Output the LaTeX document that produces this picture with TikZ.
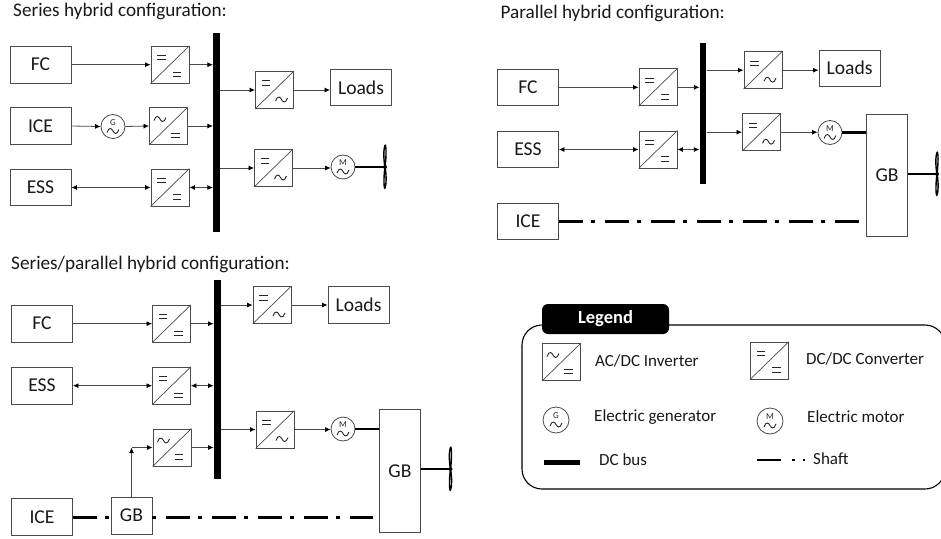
\documentclass[tikz,border=0pt]{standalone}
\usepackage{fontspec}
\setmainfont{Carlito}
\usetikzlibrary{arrows.meta}
\definecolor{ln}{HTML}{4A4A4A}
\tikzset{
  x=1pt,y=-1pt,
  block/.style={draw=ln,line width=0.9pt,fill=white,inner sep=0pt,minimum width=61pt,minimum height=36.5pt,font=\fontsize{19.6}{20}\selectfont,text=black!90},
  convbox/.style={draw=ln,line width=0.9pt,fill=white,inner sep=0pt,minimum width=38pt,minimum height=37pt},
  gearbox/.style={block,minimum width=41pt},
  busbar/.style={fill=black,inner sep=0pt,minimum width=6.8pt},
  machine/.style={circle,draw=ln,line width=0.8pt,fill=white,inner sep=0pt,minimum size=24pt},
  conn/.style={draw=ln,line width=0.8pt,-{Latex[length=5.5pt,width=5pt,black]}},
  biconn/.style={draw=ln,line width=0.8pt,{Latex[length=5.5pt,width=5pt,black]}-{Latex[length=5.5pt,width=5pt,black]}},
  heavy/.style={draw=black,line width=2.8pt},
  shaftline/.style={draw=black,line width=3pt,dash pattern=on 24pt off 8.5pt on 4pt off 9.5pt},
  title/.style={anchor=west,inner sep=0pt,font=\fontsize{19.2}{19}\selectfont,text=black!90},
  legtext/.style={anchor=west,inner sep=0pt,font=\fontsize{17}{17}\selectfont,text=black!90},
}
\newcommand\eqsym[2]{\draw[black!85,line width=1pt] (#1-4.2,#2-2.2) -- ++(8.4,0) (#1-4.2,#2+2.2) -- ++(8.4,0);}
\newcommand\acsym[2]{\draw[black!85,line width=0.9pt] (#1-6,#2+1.5) .. controls (#1-4,#2-4.5) and (#1-1,#2-2.5) .. (#1,#2) .. controls (#1+1,#2+2.5) and (#1+4,#2+4.5) .. (#1+6,#2-1.5);}
% name, cx, cy, top symbol, bottom symbol
\newcommand\conv[5]{%
  \node[convbox] (#1) at (#2,#3) {};
  \draw[ln,line width=0.7pt] (#1.south west) -- (#1.north east);
  \begin{scope}[shift={(#1.center)}]
    #4{-8.5}{-7}
    #5{7}{9.5}
  \end{scope}}
\newcommand\mach[5]{% name,x,y,letter,size
  \node[machine,minimum size=#5] (#1) at (#2,#3) {};
  \node[inner sep=0pt,font=\fontsize{9}{9}\selectfont,text=black!85] (#1l) at (#2,#3-4.2) {#4};
  \begin{scope}[shift={(#1.center)}]\acsym{0}{4.5}\end{scope}}
\newcommand\propeller[3]{% name,x,y
  \coordinate (#1) at (#2,#3);
  \begin{scope}[shift={(#1)}]
    \draw[black,line width=1.4pt,fill=white,line join=round] (0,0)
      .. controls (-1.6,-8) and (-1.6,-19) .. (0.3,-22)
      .. controls (1.6,-18) and (1,-8) .. (0,0)
      .. controls (-1.2,8) and (-1.4,19) .. (-0.3,21.5)
      .. controls (1.4,19) and (1.6,8) .. (0,0) -- cycle;
    \fill[black] (0,0) circle (2);
  \end{scope}}
\begin{document}
\begin{tikzpicture}
\useasboundingbox (0,0) rectangle (941,538);
\clip (0,0) rectangle (941,538);
%% ---------- Series ----------
\node[title] (t1) at (13,11.5) {Series hybrid configuration:};
\node[busbar,minimum height=199pt] (bus1) at (216.5,132.5) {};
\node[block] (fc1) at (40.5,64.7) {FC};
\node[block] (ice1) at (40.5,126) {ICE};
\node[block] (ess1) at (40.5,187.5) {ESS};
\conv{c11}{170}{64.7}{\eqsym}{\eqsym}
\conv{c12}{168.5}{126}{\acsym}{\eqsym}
\conv{c13}{170}{187.5}{\eqsym}{\eqsym}
\conv{c14}{274.5}{90}{\eqsym}{\acsym}
\conv{c15}{273.5}{168}{\eqsym}{\acsym}
\node[block] (l1) at (361,87.5) {Loads};
\mach{g1}{113}{126.5}{G}{24pt}
\mach{m1}{343}{167}{M}{24pt}
\propeller{p1}{385}{167}
\draw[conn] (fc1.east) -- (c11.west);
\draw[conn] (c11.east) -- (c11.east -| bus1.west);
\draw[conn] (ice1.east) -- (g1.west);
\draw[conn] (g1.east) -- (c12.west);
\draw[conn] (c12.east) -- (c12.east -| bus1.west);
\draw[biconn] (ess1.east) -- (c13.west);
\draw[biconn] (c13.east) -- (c13.east -| bus1.west);
\draw[conn] (c14.west -| bus1.east) -- (c14.west);
\draw[conn] (c14.east) -- (c14.east -| l1.west);
\draw[conn] (c15.west -| bus1.east) -- (c15.west);
\draw[conn] (c15.east) -- (c15.east -| m1.west);
\draw[heavy] (m1.east) -- (p1);
%% ---------- Parallel ----------
\node[title] (t2) at (500.5,13) {Parallel hybrid configuration:};
\node[busbar,minimum height=140.5pt] (bus2) at (703,113.7) {};
\node[block] (fc2) at (528,87.3) {FC};
\node[block] (ess2) at (528,149.5) {ESS};
\node[block] (ice2) at (528,221.2) {ICE};
\conv{c21}{658}{87.3}{\eqsym}{\eqsym}
\conv{c22}{658}{149.5}{\eqsym}{\eqsym}
\conv{c23}{763}{70.2}{\eqsym}{\acsym}
\conv{c24}{761.5}{132.2}{\eqsym}{\acsym}
\node[block] (l2) at (849.5,68.2) {Loads};
\mach{m2}{830}{132.5}{M}{24pt}
\node[gearbox,minimum height=121.5pt] (gb2) at (887,175.2) {GB};
\propeller{p2}{937}{174}
\draw[conn] (fc2.east) -- (c21.west);
\draw[conn] (c21.east) -- (c21.east -| bus2.west);
\draw[biconn] (ess2.east) -- (c22.west);
\draw[biconn] (c22.east) -- (c22.east -| bus2.west);
\draw[conn] (c23.west -| bus2.east) -- (c23.west);
\draw[conn] (c23.east) -- (c23.east -| l2.west);
\draw[conn] (c24.west -| bus2.east) -- (c24.west);
\draw[conn] (c24.east) -- (c24.east -| m2.west);
\draw[heavy] (m2.east) -- (m2.east -| gb2.west);
\draw[shaftline,shorten >=6pt] (ice2.east) -- (ice2.east -| gb2.west);
\draw[heavy] (gb2.east |- p2) -- (p2);
%% ---------- Series / parallel ----------
\node[title] (t3) at (11,264) {Series/parallel hybrid configuration:};
\node[busbar,minimum height=199.5pt] (bus3) at (217.2,379.7) {};
\node[block] (fc3) at (42,323.7) {FC};
\node[block] (ess3) at (42,385.7) {ESS};
\node[block] (ice3) at (42,517) {ICE};
\conv{c31}{171.5}{323.7}{\eqsym}{\eqsym}
\conv{c32}{171.5}{385.7}{\eqsym}{\eqsym}
\conv{c33}{172}{447.5}{\acsym}{\eqsym}
\conv{c34}{272}{305}{\eqsym}{\acsym}
\conv{c35}{275}{429.5}{\eqsym}{\acsym}
\node[block] (l3) at (358.5,305) {Loads};
\mach{m3}{343}{429}{M}{24pt}
\node[gearbox,minimum height=122.5pt] (gb3) at (400,471) {GB};
\node[gearbox,minimum height=37pt] (gs3) at (131.5,515.5) {GB};
\propeller{p3}{450.5}{469}
\coordinate (jn3) at (gs3.north |- c33.west);
\draw[conn] (fc3.east) -- (c31.west);
\draw[conn] (c31.east) -- (c31.east -| bus3.west);
\draw[biconn] (ess3.east) -- (c32.west);
\draw[biconn] (c32.east) -- (c32.east -| bus3.west);
\draw[conn] (c33.east) -- (c33.east -| bus3.west);
\draw[conn] (gs3.north) -- (jn3);
\draw[conn] (jn3) -- (c33.west);
\draw[conn] (c34.west -| bus3.east) -- (c34.west);
\draw[conn] (c34.east) -- (c34.east -| l3.west);
\draw[conn] (c35.west -| bus3.east) -- (c35.west);
\draw[conn] (c35.east) -- (c35.east -| m3.west);
\draw[heavy] (m3.east) -- (m3.east -| gb3.west);
\draw[shaftline] (ice3.east) -- (ice3.east -| gs3.west);
\draw[shaftline,dash phase=32.5pt,shorten >=6pt] (gs3.east |- ice3.east) -- (gb3.west |- ice3.east);
\draw[heavy] (gb3.east |- p3) -- (p3);
%% ---------- Legend ----------
\node[draw=black,line width=1.1pt,rounded corners=20pt,inner sep=0pt,minimum width=423pt,minimum height=164pt] (leg) at (733.5,407) {};
\node[fill=black,rounded corners=6pt,inner sep=0pt,minimum width=127pt,minimum height=30pt,text=white,font=\bfseries\fontsize{18.5}{18}\selectfont] (legt) at (605.5,319) {Legend};
\conv{lc1}{561.5}{362}{\acsym}{\eqsym}
\node[legtext] (la) at (595,361) {AC/DC Inverter};
\conv{lc2}{769.5}{360.5}{\eqsym}{\eqsym}
\node[legtext] (lb) at (806,359) {DC/DC Converter};
\mach{lg}{556}{420}{G}{26pt}
\node[legtext] (lc) at (594,417) {Electric generator};
\mach{lm}{770}{421}{M}{26pt}
\node[legtext] (ld) at (807,417) {Electric motor};
\node[fill=black,inner sep=0pt,minimum width=36pt,minimum height=5.5pt] (lbus) at (562,462.5) {};
\node[legtext] (le) at (599,460) {DC bus};
\node[legtext] (lf) at (813,459) {Shaft};
\coordinate (ls) at (757,460);
\draw[black,line width=2pt,shorten >=7pt,dash pattern=on 24pt off 11pt on 3pt off 8pt on 1.5pt off 9pt] (ls) -- (ls -| lf.west);
\end{tikzpicture}
\end{document}
